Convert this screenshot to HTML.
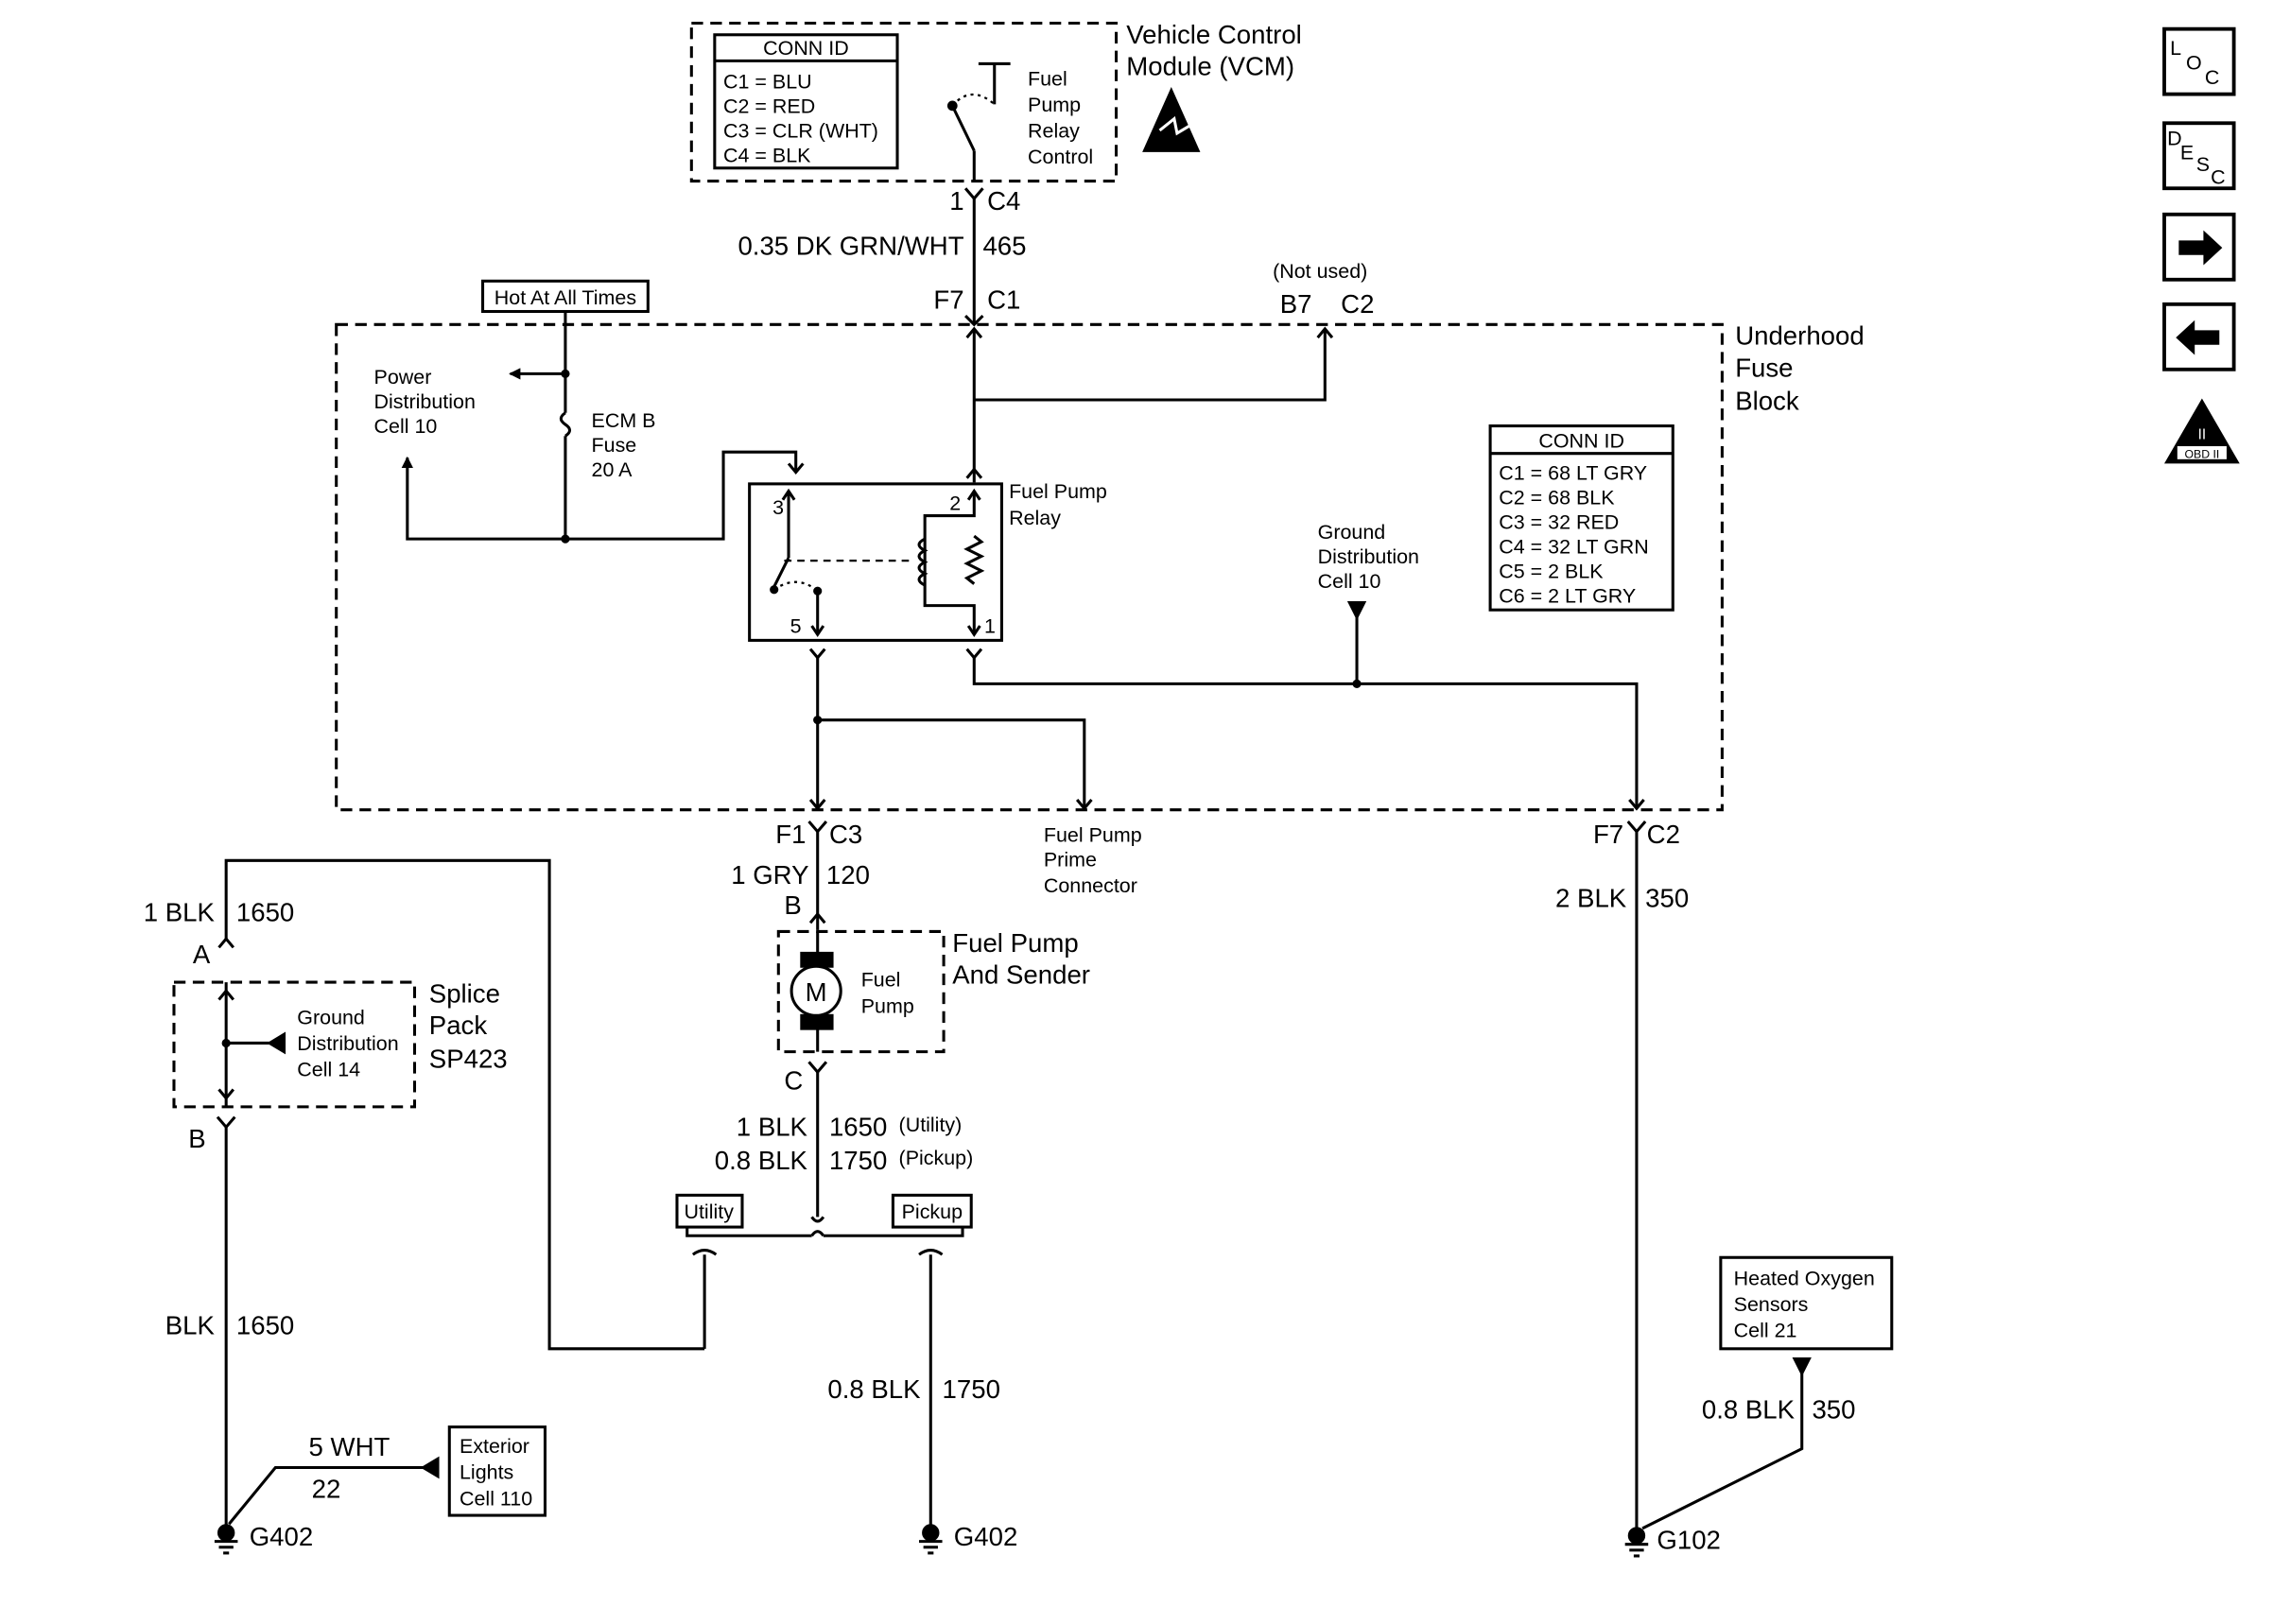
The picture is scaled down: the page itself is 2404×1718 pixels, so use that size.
<!DOCTYPE html>
<html><head><meta charset="utf-8"><style>
html,body{margin:0;padding:0;background:#fff;}
svg{display:block;}
text{font-family:"Liberation Sans",sans-serif;fill:#000;}
.b{font-size:18px;}
.s{font-size:14px;}
.xs{font-size:12px;}
</style></head><body>
<svg width="2404" height="1718" viewBox="0 0 1568 1121" preserveAspectRatio="none" xmlns="http://www.w3.org/2000/svg">
<defs>
<marker id="ah" markerWidth="8" markerHeight="8" refX="7" refY="4" orient="auto" markerUnits="userSpaceOnUse"><path d="M0,0 L8,4 L0,8 z" fill="#000"/></marker>
</defs>
<g stroke="#000" stroke-width="2" fill="none">
<rect x="477" y="16" width="293" height="109" stroke-dasharray="8,5"/>
<rect x="493" y="24" width="126" height="92"/>
<line x1="493" y1="42" x2="619" y2="42"/>
<line x1="675" y1="44" x2="697" y2="44"/><line x1="686" y1="44" x2="686" y2="72"/>
<circle cx="657" cy="73" r="2.5" fill="#000"/>
<path d="M657,73 Q670,58 686,72" stroke-dasharray="2,3" stroke-width="1.5"/>
<line x1="657" y1="73" x2="672" y2="104"/><line x1="672" y1="104" x2="672" y2="125"/>
<path d="M666,130 L672,137 L678,130" /><line x1="672" y1="137" x2="672" y2="224"/>
<path d="M666,218 L672,224 L678,218"/>
<rect x="232" y="224" width="956" height="335" stroke-dasharray="8,5"/>
<line x1="672" y1="228" x2="672" y2="333"/>
<path d="M667,233 L672,227 L677,233"/>
<polyline points="672,276 914,276 914,228"/>
<path d="M909,233 L914,227 L919,233"/>
<rect x="333" y="194" width="114" height="21"/>
<line x1="390" y1="215" x2="390" y2="285"/>
<path d="M390,285 q-6,4 0,8 q6,4 0,8"/>
<line x1="390" y1="301" x2="390" y2="372"/>
<line x1="390" y1="258" x2="352" y2="258" marker-end="url(#ah)"/>
<circle cx="390" cy="258" r="2" fill="#000"/>
<circle cx="390" cy="372" r="2" fill="#000"/>
<polyline points="390,372 281,372 281,316" marker-end="url(#ah)"/>
<polyline points="390,372 499,372 499,312 549,312 549,325"/>
<path d="M544,320 L549,326 L554,320"/>
<path d="M667,330 L672,324 L677,330"/>
<rect x="517" y="334" width="174" height="108"/>
<line x1="544" y1="340" x2="544" y2="385"/><path d="M540,345 L544,339 L548,345"/>
<line x1="544" y1="385" x2="534" y2="405"/><circle cx="534" cy="407" r="2" fill="#000"/>
<path d="M534,407 Q550,396 564,408" stroke-dasharray="2,3" stroke-width="1.5"/>
<circle cx="564" cy="408" r="2" fill="#000"/>
<line x1="564" y1="408" x2="564" y2="438"/><path d="M560,432 L564,438 L568,432"/>
<line x1="541" y1="387" x2="630" y2="387" stroke-dasharray="5,4" stroke-width="1.5"/>
<polyline points="672,340 672,356 638,356 638,418 672,418 672,438"/>
<path d="M668,345 L672,339 L676,345"/><path d="M668,432 L672,438 L676,432"/>
<path d="M638,372 q-8,4 0,8 q-8,4 0,8 q-8,4 0,8 q-8,4 0,8"/>
<path d="M672,370 l5,4 l-10,5 l10,5 l-10,5 l10,5 l-10,5 l5,4"/>
<path d="M559,448 L564,454 L569,448"/><line x1="564" y1="454" x2="564" y2="558"/>
<path d="M667,448 L672,454 L677,448"/>
<polyline points="672,454 672,472 1129,472 1129,558"/>
<path d="M1124,552 L1129,558 L1134,552"/>
<path d="M559,552 L564,558 L569,552"/>
<polyline points="564,497 748,497 748,558"/>
<path d="M743,552 L748,558 L753,552"/>
<circle cx="564" cy="497" r="2" fill="#000"/><circle cx="936" cy="472" r="2" fill="#000"/>
<line x1="936" y1="418" x2="936" y2="472"/>
<path d="M931,416 L941,416 L936,426 z" fill="#000"/>
<rect x="1028" y="294" width="126" height="127"/>
<line x1="1028" y1="313" x2="1154" y2="313"/>
<path d="M558,567 L564,574 L570,567"/><line x1="564" y1="574" x2="564" y2="642"/>
<path d="M559,637 L564,631 L569,637"/>
<path d="M1123,567 L1129,574 L1135,567"/><line x1="1129" y1="574" x2="1129" y2="1056"/>
<rect x="537" y="643" width="114" height="83" stroke-dasharray="8,5"/>
<rect x="553" y="658" width="21" height="9" fill="#000"/>
<rect x="553" y="701" width="21" height="9" fill="#000"/>
<circle cx="563" cy="684" r="17" fill="#fff"/>
<line x1="564" y1="643" x2="564" y2="658"/><line x1="564" y1="710" x2="564" y2="726"/>
<path d="M558,733 L564,740 L570,733"/><line x1="564" y1="740" x2="564" y2="840"/>
<path d="M560,840 q4,6 8,0"/>
<rect x="467" y="825" width="45" height="22"/>
<rect x="616" y="825" width="54" height="22"/>
<polyline points="474,847 474,853 560,853"/><path d="M560,853 q4,-6 8,0"/><polyline points="568,853 664,853 664,847"/>
<path d="M478,866 q8,-6 16,0"/><line x1="486" y1="866" x2="486" y2="931"/>
<polyline points="486,931 379,931 379,594 156,594 156,648"/>
<path d="M634,866 q8,-6 16,0"/><line x1="642" y1="866" x2="642" y2="1056"/>
<path d="M151,654 L156,648 L161,654"/>
<rect x="120" y="678" width="166" height="86" stroke-dasharray="8,5"/>
<line x1="156" y1="678" x2="156" y2="764"/>
<path d="M151,690 L156,684 L161,690"/><path d="M151,752 L156,758 L161,752"/>
<line x1="196" y1="720" x2="156" y2="720"/><path d="M196,714 L186,720 L196,726 z" fill="#000"/>
<circle cx="156" cy="720" r="2" fill="#000"/>
<path d="M150,771 L156,778 L162,771"/><line x1="156" y1="778" x2="156" y2="1056"/>
<polyline points="158,1052 190,1013 300,1013"/>
<path d="M302,1007 L292,1013 L302,1019 z" fill="#000"/>
<rect x="310" y="985" width="66" height="61"/>
<rect x="1187" y="868" width="118" height="63"/>
<path d="M1238,938 L1248,938 L1243,948 z" fill="#000"/>
<polyline points="1243,948 1243,1000 1133,1055"/>
<circle cx="156" cy="1058" r="5" fill="#000"/><line x1="148" y1="1064" x2="164" y2="1064"/><line x1="151" y1="1068" x2="161" y2="1068"/><line x1="154" y1="1072" x2="158" y2="1072"/>
<circle cx="642" cy="1058" r="5" fill="#000"/><line x1="634" y1="1064" x2="650" y2="1064"/><line x1="637" y1="1068" x2="647" y2="1068"/><line x1="640" y1="1072" x2="644" y2="1072"/>
<circle cx="1129" cy="1060" r="5" fill="#000"/><line x1="1121" y1="1066" x2="1137" y2="1066"/><line x1="1124" y1="1070" x2="1134" y2="1070"/><line x1="1127" y1="1074" x2="1131" y2="1074"/>
<rect x="1493" y="20" width="48" height="45" stroke-width="2.5"/>
<rect x="1493" y="85" width="48" height="45" stroke-width="2.5"/>
<rect x="1493" y="148" width="48" height="45" stroke-width="2.5"/>
<rect x="1493" y="210" width="48" height="45" stroke-width="2.5"/>
</g>
<path d="M808,60 L828,105 L788,105 z" fill="#000"/>
<path d="M800,90 L810,82 L812,92 L822,86" fill="none" stroke="#fff" stroke-width="2"/>
<path d="M1503,166 L1520,166 L1520,159 L1533,171 L1520,183 L1520,176 L1503,176 z" fill="#000"/>
<path d="M1531,228 L1514,228 L1514,221 L1501,233 L1514,245 L1514,238 L1531,238 z" fill="#000"/>
<path d="M1519,275 L1545,320 L1493,320 z" fill="#000"/>
<rect x="1502" y="308" width="34" height="9" fill="#fff"/>
<text x="1519" y="316" style="font-size:8px" text-anchor="middle">OBD II</text>
<text x="1519" y="303" style="font-size:10px;fill:#fff" text-anchor="middle">II</text>
<text x="1497" y="38" class="s">L</text><text x="1508" y="48" class="s">O</text><text x="1521" y="58" class="s">C</text>
<text x="1495" y="100" class="s">D</text><text x="1504" y="110" class="s">E</text><text x="1515" y="118" class="s">S</text><text x="1525" y="127" class="s">C</text>

<text x="556" y="38" class="s" text-anchor="middle">CONN ID</text>
<text x="499" y="61" class="s">C1 = BLU</text>
<text x="499" y="78" class="s">C2 = RED</text>
<text x="499" y="95" class="s">C3 = CLR (WHT)</text>
<text x="499" y="112" class="s">C4 = BLK</text>
<text x="709" y="59" class="s">Fuel</text><text x="709" y="77" class="s">Pump</text><text x="709" y="95" class="s">Relay</text><text x="709" y="113" class="s">Control</text>
<text x="777" y="30" class="b">Vehicle Control</text><text x="777" y="52" class="b">Module (VCM)</text>
<text x="655" y="145" class="b">1</text><text x="681" y="145" class="b">C4</text>
<text x="665" y="176" class="b" text-anchor="end">0.35 DK GRN/WHT</text><text x="678" y="176" class="b">465</text>
<text x="665" y="213" class="b" text-anchor="end">F7</text><text x="681" y="213" class="b">C1</text>
<text x="878" y="192" class="s">(Not used)</text>
<text x="883" y="216" class="b">B7</text><text x="925" y="216" class="b">C2</text>
<text x="1197" y="238" class="b">Underhood</text><text x="1197" y="260" class="b">Fuse</text><text x="1197" y="283" class="b">Block</text>
<text x="390" y="210" class="s" text-anchor="middle">Hot At All Times</text>
<text x="258" y="265" class="s">Power</text><text x="258" y="282" class="s">Distribution</text><text x="258" y="299" class="s">Cell 10</text>
<text x="408" y="295" class="s">ECM B</text><text x="408" y="312" class="s">Fuse</text><text x="408" y="329" class="s">20 A</text>
<text x="696" y="344" class="s">Fuel Pump</text><text x="696" y="362" class="s">Relay</text>
<text x="533" y="355" class="s">3</text><text x="655" y="352" class="s">2</text><text x="545" y="437" class="s">5</text><text x="679" y="437" class="s">1</text>
<text x="909" y="372" class="s">Ground</text><text x="909" y="389" class="s">Distribution</text><text x="909" y="406" class="s">Cell 10</text>
<text x="1091" y="309" class="s" text-anchor="middle">CONN ID</text>
<text x="1034" y="331" class="s">C1 = 68 LT GRY</text>
<text x="1034" y="348" class="s">C2 = 68 BLK</text>
<text x="1034" y="365" class="s">C3 = 32 RED</text>
<text x="1034" y="382" class="s">C4 = 32 LT GRN</text>
<text x="1034" y="399" class="s">C5 = 2 BLK</text>
<text x="1034" y="416" class="s">C6 = 2 LT GRY</text>
<text x="556" y="582" class="b" text-anchor="end">F1</text><text x="572" y="582" class="b">C3</text>
<text x="720" y="581" class="s">Fuel Pump</text><text x="720" y="598" class="s">Prime</text><text x="720" y="616" class="s">Connector</text>
<text x="1120" y="582" class="b" text-anchor="end">F7</text><text x="1136" y="582" class="b">C2</text>
<text x="558" y="610" class="b" text-anchor="end">1 GRY</text><text x="570" y="610" class="b">120</text>
<text x="541" y="631" class="b">B</text>
<text x="1122" y="626" class="b" text-anchor="end">2 BLK</text><text x="1135" y="626" class="b">350</text>
<text x="563" y="691" class="b" text-anchor="middle">M</text>
<text x="594" y="681" class="s">Fuel</text><text x="594" y="699" class="s">Pump</text>
<text x="657" y="657" class="b">Fuel Pump</text><text x="657" y="679" class="b">And Sender</text>
<text x="541" y="752" class="b">C</text>
<text x="557" y="784" class="b" text-anchor="end">1 BLK</text><text x="572" y="784" class="b">1650</text><text x="620" y="781" class="s">(Utility)</text>
<text x="557" y="807" class="b" text-anchor="end">0.8 BLK</text><text x="572" y="807" class="b">1750</text><text x="620" y="804" class="s">(Pickup)</text>
<text x="489" y="841" class="s" text-anchor="middle">Utility</text>
<text x="643" y="841" class="s" text-anchor="middle">Pickup</text>
<text x="148" y="636" class="b" text-anchor="end">1 BLK</text><text x="163" y="636" class="b">1650</text>
<text x="133" y="665" class="b">A</text>
<text x="296" y="692" class="b">Splice</text><text x="296" y="714" class="b">Pack</text><text x="296" y="737" class="b">SP423</text>
<text x="205" y="707" class="s">Ground</text><text x="205" y="725" class="s">Distribution</text><text x="205" y="743" class="s">Cell 14</text>
<text x="130" y="792" class="b">B</text>
<text x="148" y="921" class="b" text-anchor="end">BLK</text><text x="163" y="921" class="b">1650</text>
<text x="213" y="1005" class="b">5 WHT</text><text x="215" y="1034" class="b">22</text>
<text x="317" y="1003" class="s">Exterior</text><text x="317" y="1021" class="s">Lights</text><text x="317" y="1039" class="s">Cell 110</text>
<text x="172" y="1067" class="b">G402</text>
<text x="635" y="965" class="b" text-anchor="end">0.8 BLK</text><text x="650" y="965" class="b">1750</text>
<text x="658" y="1067" class="b">G402</text>
<text x="1196" y="887" class="s">Heated Oxygen</text><text x="1196" y="905" class="s">Sensors</text><text x="1196" y="923" class="s">Cell 21</text>
<text x="1238" y="979" class="b" text-anchor="end">0.8 BLK</text><text x="1250" y="979" class="b">350</text>
<text x="1143" y="1069" class="b">G102</text>
</svg>
</body></html>
